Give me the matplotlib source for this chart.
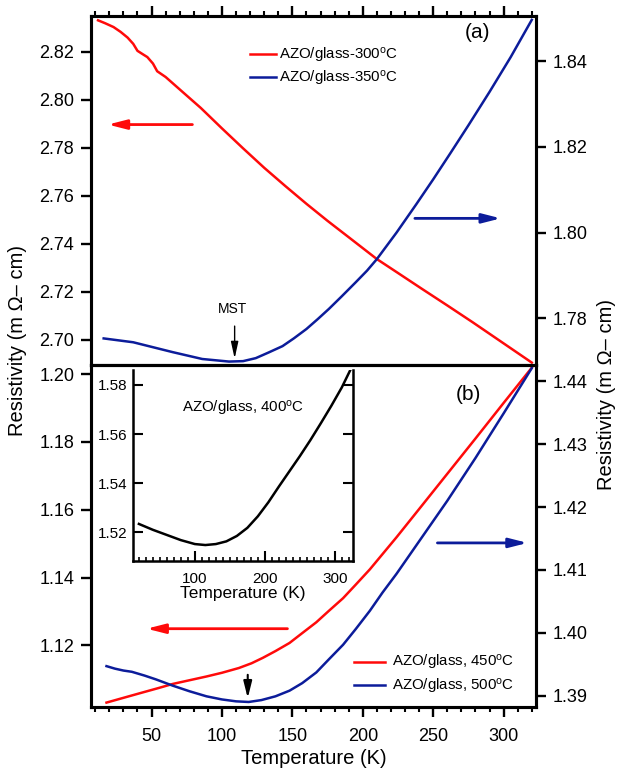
import matplotlib
matplotlib.use("Agg")
import matplotlib.pyplot as plt
from matplotlib.ticker import MultipleLocator

plt.rcParams['font.family'] = ['Liberation Sans', 'DejaVu Sans']
plt.rcParams['mathtext.fontset'] = 'custom'
plt.rcParams['mathtext.rm'] = 'Liberation Sans'
plt.rcParams['mathtext.it'] = 'Liberation Sans:italic'

# ---------------- data ----------------
# panel (a)
T_a_300 = [12, 17, 23, 28, 33, 37, 40, 44, 47, 51, 54, 60, 72, 85, 100, 115, 130, 145, 160, 175,
           190, 210, 225, 242, 260, 278, 295, 310, 320]
R_a_300 = [2.8330, 2.8318, 2.8302, 2.8282, 2.8258, 2.8232, 2.8203, 2.8188, 2.8177, 2.8150, 2.8118,
           2.8094, 2.8032, 2.7965, 2.7880, 2.7797, 2.7716, 2.7640, 2.7566, 2.7495, 2.7427, 2.7336,
           2.7278, 2.7212, 2.7143, 2.7073, 2.7005, 2.6945, 2.6905]
T_a_350 = [16, 37, 65, 86, 105, 115, 124, 133, 143, 151, 160, 168, 176, 185, 195, 203, 210, 224,
           238, 250, 262, 275, 290, 305, 320]
R_a_350 = [1.7753, 1.7744, 1.7721, 1.7705, 1.7699, 1.7700, 1.7707, 1.7720, 1.7735, 1.7753, 1.7775,
           1.7798, 1.7822, 1.7851, 1.7884, 1.7911, 1.7938, 1.8000, 1.8066, 1.8124, 1.8184, 1.8250,
           1.8328, 1.8409, 1.8496]

# panel (b)
T_b_450 = [18, 30, 42, 55, 65, 77, 89, 100, 112, 121, 129, 138, 148, 157, 167, 176, 186, 195, 205,
           214, 224, 240, 260, 280, 300, 320]
R_b_450 = [1.1031, 1.1045, 1.1059, 1.1074, 1.1086, 1.1097, 1.1108, 1.1119, 1.1133, 1.1147, 1.1163,
           1.1183, 1.1207, 1.1236, 1.1268, 1.1302, 1.1339, 1.1379, 1.1424, 1.1469, 1.1519, 1.1602,
           1.1706, 1.1810, 1.1915, 1.2019]
T_b_500 = [18, 24, 30, 36, 45, 53, 65, 77, 89, 100, 110, 119, 128, 138, 148, 157, 167, 176, 186,
           195, 205, 214, 224, 233, 242, 260, 280, 300, 320]
R_b_500 = [1.3947, 1.3943, 1.3940, 1.3938, 1.3932, 1.3926, 1.3916, 1.3907, 1.3899, 1.3894, 1.3891,
           1.3890, 1.3893, 1.3899, 1.3908, 1.3920, 1.3937, 1.3958, 1.3981, 1.4006, 1.4035, 1.4064,
           1.4094, 1.4123, 1.4152, 1.4210, 1.4278, 1.4349, 1.4421]

# inset
T_in_400 = [20, 40, 60, 80, 100, 115, 130, 145, 160, 175, 190, 205, 220, 235, 250, 265, 280, 295,
            310, 322]
R_in_400 = [1.5234, 1.5210, 1.5189, 1.5168, 1.5152, 1.5148, 1.5152, 1.5163, 1.5185, 1.5218, 1.5265,
            1.5322, 1.5386, 1.5448, 1.5510, 1.5575, 1.5644, 1.5715, 1.5790, 1.5860]

labels_a = ['AZO/glass-300$^{\\mathrm{o}}$C', 'AZO/glass-350$^{\\mathrm{o}}$C']
labels_b = ['AZO/glass, 450$^{\\mathrm{o}}$C', 'AZO/glass, 500$^{\\mathrm{o}}$C']
label_in = 'AZO/glass, 400$^{\\mathrm{o}}$C'
ylabel = 'Resistivity (m \u03a9\u2013 cm)'
xlabel = 'Temperature (K)'

RED = '#ff0a0a'
BLUE = '#0c1c9a'
LW = 1.8

W, H = 619, 773
fig = plt.figure(figsize=(W / 100, H / 100), dpi=100)


def fx(px):
    return px / W


def fy(py):
    return 1 - py / H


L, R = 91, 536
ax_a = fig.add_axes([fx(L), fy(365), fx(R) - fx(L), fy(16) - fy(365)])
ax_b = fig.add_axes([fx(L), fy(707), fx(R) - fx(L), fy(365) - fy(707)])
ax_a2 = ax_a.twinx()
ax_b2 = ax_b.twinx()

XLIM = (7, 323)
SP_LW = 2.2

for ax in (ax_a, ax_b, ax_a2, ax_b2):
    for s in ax.spines.values():
        s.set_linewidth(SP_LW)
    ax.set_xlim(*XLIM)
    ax.xaxis.set_major_locator(MultipleLocator(50))
    ax.xaxis.set_minor_locator(MultipleLocator(10))
    ax.tick_params(which='major', length=7, width=1.7, labelsize=13, pad=5, direction='out')
    ax.tick_params(which='minor', length=3.5, width=1.5, direction='out')

# panel (a) curves
ax_a.plot(T_a_300, R_a_300, color=RED, lw=LW, label=labels_a[0])
ax_a2.plot(T_a_350, R_a_350, color=BLUE, lw=LW, label=labels_a[1])
ax_a.set_ylim(2.6895, 2.8348)
ax_a2.set_ylim(1.7691, 1.8505)
ax_a.yaxis.set_major_locator(MultipleLocator(0.02))
ax_a2.yaxis.set_major_locator(MultipleLocator(0.02))
ax_a.yaxis.set_major_formatter(plt.FormatStrFormatter('%.2f'))
ax_a2.yaxis.set_major_formatter(plt.FormatStrFormatter('%.2f'))
ax_a.tick_params(axis='x', which='both', top=True, bottom=True, labelbottom=False, labeltop=False)
ax_a2.tick_params(axis='x', which='both', top=False, bottom=False, labelbottom=False)

# panel (b) curves
ax_b.plot(T_b_450, R_b_450, color=RED, lw=LW, label=labels_b[0])
ax_b2.plot(T_b_500, R_b_500, color=BLUE, lw=LW, label=labels_b[1])
ax_b.set_ylim(1.1018, 1.2027)
ax_b2.set_ylim(1.3882, 1.4426)
ax_b.yaxis.set_major_locator(MultipleLocator(0.02))
ax_b2.yaxis.set_major_locator(MultipleLocator(0.01))
ax_b.yaxis.set_major_formatter(plt.FormatStrFormatter('%.2f'))
ax_b2.yaxis.set_major_formatter(plt.FormatStrFormatter('%.2f'))
ax_b.tick_params(axis='x', which='both', top=False, bottom=True, labelbottom=True)
ax_b2.tick_params(axis='x', which='both', top=False, bottom=False, labelbottom=False)
ax_b.tick_params(axis='x', pad=8)
ax_b.set_xlabel(xlabel, fontsize=14.5, labelpad=3)

# arrows
def arrow(ax, x0, x1, y, color, lw=2.0, hl=1.1, hw=0.28):
    ax.annotate('', xy=(x1, y), xytext=(x0, y),
                arrowprops=dict(arrowstyle='-|>,head_length=%g,head_width=%g' % (hl, hw),
                                color=color, lw=lw, shrinkA=0, shrinkB=0, mutation_scale=10))

arrow(ax_a, 79, 19, 2.7896, RED)
arrow(ax_a2, 237, 298, 1.8033, BLUE)
arrow(ax_b, 146.5, 46.5, 1.1249, RED)
arrow(ax_b2, 253, 317, 1.4143, BLUE)

# MST arrow and label
ax_a.annotate('', xy=(109, 2.6922), xytext=(109, 2.7057),
              arrowprops=dict(arrowstyle='-|>,head_length=1.0,head_width=0.22',
                              color='black', lw=1.0, shrinkA=0, shrinkB=0, mutation_scale=10))
ax_a.text(107.5, 2.7127, 'MST', fontsize=10, ha='center', va='center')
ax_b.annotate('', xy=(118.3, 1.1044), xytext=(118.3, 1.1113),
              arrowprops=dict(arrowstyle='-|>,head_length=1.0,head_width=0.25',
                              color='black', lw=1.5, shrinkA=0, shrinkB=0, mutation_scale=10))

fig.text(fx(477), fy(33), '(a)', fontsize=15, ha='center', va='center')
fig.text(fx(468), fy(395), '(b)', fontsize=15, ha='center', va='center')

# legends
ha, la = ax_a.get_legend_handles_labels()
hb, lb = ax_a2.get_legend_handles_labels()
fig.legend(ha + hb, la + lb, loc='upper left', bbox_to_anchor=(fx(245), fy(41)),
           frameon=False, fontsize=10.8, handlelength=1.75, handletextpad=0.2,
           borderaxespad=0, borderpad=0.3, labelspacing=0.3)
ha, la = ax_b.get_legend_handles_labels()
hb, lb = ax_b2.get_legend_handles_labels()
fig.legend(ha + hb, la + lb, loc='upper left', bbox_to_anchor=(fx(349), fy(649)),
           frameon=False, fontsize=10.8, handlelength=2.1, handletextpad=0.45,
           borderaxespad=0, borderpad=0.3, labelspacing=0.3)

# y labels
fig.text(fx(18), fy(341), ylabel, rotation=90, fontsize=14.5, ha='center', va='center')
fig.text(fx(607), fy(394), ylabel, rotation=90, fontsize=14.5, ha='center', va='center')

# inset
ax_in = fig.add_axes([fx(133.3), fy(561), fx(353) - fx(133.3), fy(370) - fy(561)])
ax_in.plot(T_in_400, R_in_400, color='black', lw=LW)
ax_in.set_xlim(12, 326)
ax_in.set_ylim(1.5083, 1.5861)
ax_in.spines['top'].set_visible(False)
for s in ('left', 'bottom', 'right'):
    ax_in.spines[s].set_linewidth(1.8)
ax_in.xaxis.set_major_locator(MultipleLocator(100))
ax_in.xaxis.set_minor_locator(MultipleLocator(10))
ax_in.yaxis.set_major_locator(MultipleLocator(0.02))
ax_in.yaxis.set_major_formatter(plt.FormatStrFormatter('%.2f'))
ax_in.tick_params(which='major', direction='in', length=7, width=1.5, labelsize=11,
                  right=True, top=False, pad=4)
ax_in.tick_params(axis='x', which='major', pad=8)
ax_in.tick_params(which='minor', direction='in', length=3, width=1.2, top=False)
ax_in.set_xlabel(xlabel, fontsize=12.5, labelpad=0)
ax_in.text(0.5, 0.8, label_in, transform=ax_in.transAxes, fontsize=10.8, ha='center', va='center')

fig.savefig('out.png', dpi=100)
